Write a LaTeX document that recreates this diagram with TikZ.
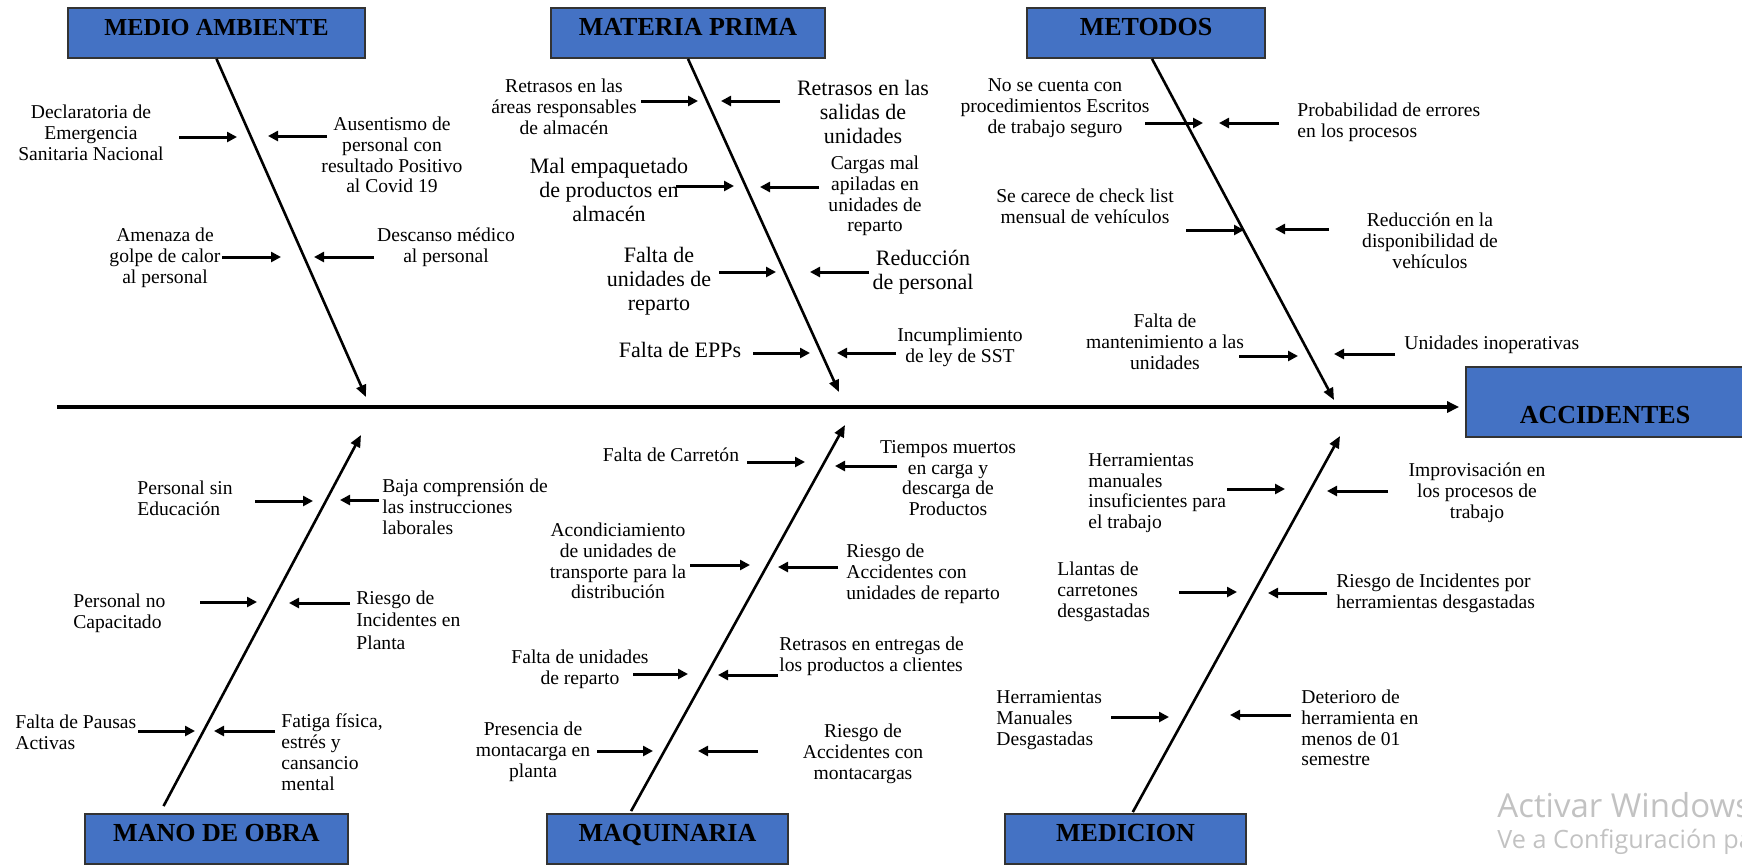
\documentclass[tikz,border=0pt]{standalone}
\usepackage{fontspec}
\setmainfont{Liberation Serif}
\newfontfamily\wmfont{Open Sans}
\usetikzlibrary{arrows.meta}
\usetikzlibrary{positioning, calc}

\definecolor{ishiblue}{RGB}{68,114,196}
\tikzset{
  cat/.style={draw=black!80, line width=0.9pt, fill=ishiblue, inner sep=0pt,
    font=\fontsize{13}{15}\selectfont\bfseries, text height=8.6pt, text depth=6pt,
    minimum height=25pt},
  bone/.style={line width=1.3pt, -{Triangle[length=6pt,width=5pt]}},
  spine/.style={line width=1.7pt, -{Triangle[length=6pt,width=5.5pt]}},
  cause/.style={line width=1.5pt, -{Triangle[length=5pt,width=5pt]}},
  txt/.style={align=center, inner sep=0pt, font=\fontsize{9.8}{10.4}\selectfont},
  bigtxt/.style={align=center, inner sep=0pt, font=\fontsize{11}{12}\selectfont},
  ltxt/.style={txt, align=left, anchor=west},
  wm/.style={anchor=base west, inner sep=0pt, text=black!24},
}

\begin{document}
\begin{tikzpicture}[x=0.5pt, y=-0.5pt]
  \useasboundingbox (0,0) rectangle (1742,864);

  % categories and effect
  \node[cat, minimum width=148.5pt, font=\fontsize{12.2}{14}\selectfont\bfseries] (medio) at (216.5,33) {MEDIO AMBIENTE};
  \node[cat, minimum width=137pt] (materia) at (688,33) {MATERIA PRIMA};
  \node[cat, minimum width=119pt] (metodos) at (1146,33) {METODOS};
  \node[cat, minimum width=139pt, minimum height=35pt, text height=21.6pt, text depth=0pt] (accid) at (1605,402) {ACCIDENTES};
  \node[cat, minimum width=131.5pt] (mano) at (216.5,839) {MANO DE OBRA};
  \node[cat, minimum width=120.5pt] (maquina) at (667.5,839) {MAQUINARIA};
  \node[cat, minimum width=120.5pt] (medicion) at (1125.5,839) {MEDICION};

  % spine
  \coordinate (spinestart) at (57,407);
  \draw[spine, shorten >=3pt] (spinestart) -- (spinestart -| accid.west);

  % bones
  \coordinate (mediotip) at (366,397);
  \coordinate (materiatip) at (839,392);
  \coordinate (metodostip) at (1334,400);
  \coordinate (manotip) at (361,435);
  \coordinate (maquinatip) at (845,425);
  \coordinate (mediciontip) at (1340,436);
  \draw[bone] (medio.south) -- (mediotip);
  \draw[bone] (materia.south) -- (materiatip);
  \draw[bone] ([xshift=3pt]metodos.south) -- (metodostip);
  \draw[bone] ([yshift=3.5pt]$(mano.north west)!0.30!(mano.north east)$) -- (manotip);
  \draw[bone] ([yshift=1pt]$(maquina.north west)!0.35!(maquina.north east)$) -- (maquinatip);
  \draw[bone] ([yshift=0.5pt]$(medicion.north west)!0.53!(medicion.north east)$) -- (mediciontip);

  % medio ambiente
  \node[txt] (ma1) at (91,133) {Declaratoria de\\Emergencia\\Sanitaria Nacional};
  \node[txt] (ma2) at (392,155) {Ausentismo de\\personal con\\resultado Positivo\\al Covid 19};
  \node[txt] (ma3) at (165,258) {Amenaza de\\golpe de calor\\al personal};
  \node[txt] (ma4) at (446,247) {Descanso médico\\al personal};
  \coordinate (ma1s) at (179,137); \coordinate (ma1e) at (237,137);
  \coordinate (ma2s) at (327,136); \coordinate (ma2e) at (268,136);
  \coordinate (ma3s) at (222,257); \coordinate (ma3e) at (281,257);
  \coordinate (ma4s) at (374,257); \coordinate (ma4e) at (314,257);
  \draw[cause] (ma1s) -- (ma1e);
  \draw[cause] (ma2s) -- (ma2e);
  \draw[cause] (ma3s) -- (ma3e);
  \draw[cause] (ma4s) -- (ma4e);

  % materia prima
  \node[txt] (mp1) at (564,107) {Retrasos en las\\áreas responsables\\de almacén};
  \node[bigtxt] (mp2) at (863,112) {Retrasos en las\\salidas de\\unidades};
  \node[bigtxt] (mp3) at (609,190) {Mal empaquetado\\de productos en\\almacén};
  \node[txt] (mp4) at (875,196) {Cargas mal\\apiladas en\\unidades de\\reparto};
  \node[bigtxt] (mp5) at (659,281) {Falta de\\unidades de\\reparto};
  \node[bigtxt] (mp6) at (923,272) {Reducción\\de personal};
  \node[bigtxt] (mp7) at (680,350) {Falta de EPPs};
  \node[txt] (mp8) at (960,347) {Incumplimiento\\de ley de SST};
  \coordinate (mp1s) at (641,101); \coordinate (mp1e) at (698,101);
  \coordinate (mp2s) at (780,101); \coordinate (mp2e) at (721,101);
  \coordinate (mp3s) at (676,186); \coordinate (mp3e) at (734,186);
  \coordinate (mp4s) at (819,187); \coordinate (mp4e) at (760,187);
  \coordinate (mp5s) at (719,272); \coordinate (mp5e) at (776,272);
  \coordinate (mp6s) at (869,272); \coordinate (mp6e) at (810,272);
  \coordinate (mp7s) at (753,353); \coordinate (mp7e) at (810,353);
  \coordinate (mp8s) at (896,353); \coordinate (mp8e) at (837,353);
  \draw[cause] (mp1s) -- (mp1e);
  \draw[cause] (mp2s) -- (mp2e);
  \draw[cause] (mp3s) -- (mp3e);
  \draw[cause] (mp4s) -- (mp4e);
  \draw[cause] (mp5s) -- (mp5e);
  \draw[cause] (mp6s) -- (mp6e);
  \draw[cause] (mp7s) -- (mp7e);
  \draw[cause] (mp8s) -- (mp8e);

  % metodos
  \node[txt] (me1) at (1055,108) {No se cuenta con\\procedimientos Escritos\\de trabajo seguro};
  \node[ltxt] (me2) at (1297,122) {Probabilidad de errores\\en los procesos};
  \node[txt] (me3) at (1085,206) {Se carece de check list\\mensual de vehículos};
  \node[txt] (me4) at (1430,241) {Reducción en la\\disponibilidad de\\vehículos};
  \node[txt] (me5) at (1165,342) {Falta de\\mantenimiento a las\\unidades};
  \node[ltxt] (me6) at (1404,345) {Unidades inoperativas};
  \coordinate (me1s) at (1145,123); \coordinate (me1e) at (1203,123);
  \coordinate (me2s) at (1279,123); \coordinate (me2e) at (1219,123);
  \coordinate (me3s) at (1186,230); \coordinate (me3e) at (1244,230);
  \coordinate (me4s) at (1329,229); \coordinate (me4e) at (1275,229);
  \coordinate (me5s) at (1239,356); \coordinate (me5e) at (1298,356);
  \coordinate (me6s) at (1395,354); \coordinate (me6e) at (1334,354);
  \draw[cause] (me1s) -- (me1e);
  \draw[cause] (me2s) -- (me2e);
  \draw[cause] (me3s) -- (me3e);
  \draw[cause] (me4s) -- (me4e);
  \draw[cause] (me5s) -- (me5e);
  \draw[cause] (me6s) -- (me6e);

  % mano de obra
  \node[ltxt] (mo1) at (137,498) {Personal sin\\Educación};
  \node[ltxt] (mo2) at (382,507) {Baja comprensión de\\las instrucciones\\laborales};
  \node[ltxt] (mo3) at (73,613) {Personal no\\Capacitado};
  \node[ltxt, font=\fontsize{9.8}{11.2}\selectfont] (mo4) at (356,620) {Riesgo de\\Incidentes en\\Planta};
  \node[ltxt] (mo5) at (15,732) {Falta de Pausas\\Activas};
  \node[ltxt] (mo6) at (281,752) {Fatiga física,\\estrés y\\cansancio\\mental};
  \coordinate (mo1s) at (255,501); \coordinate (mo1e) at (313,501);
  \coordinate (mo2s) at (379,500); \coordinate (mo2e) at (340,500);
  \coordinate (mo3s) at (200,602); \coordinate (mo3e) at (257,602);
  \coordinate (mo4s) at (350,603); \coordinate (mo4e) at (289,603);
  \coordinate (mo5s) at (138,731); \coordinate (mo5e) at (195,731);
  \coordinate (mo6s) at (275,731); \coordinate (mo6e) at (214,731);
  \draw[cause] (mo1s) -- (mo1e);
  \draw[cause] (mo2s) -- (mo2e);
  \draw[cause] (mo3s) -- (mo3e);
  \draw[cause] (mo4s) -- (mo4e);
  \draw[cause] (mo5s) -- (mo5e);
  \draw[cause] (mo6s) -- (mo6e);

  % maquinaria
  \node[txt] (mq1) at (671,455) {Falta de Carretón};
  \node[txt] (mq2) at (948,478) {Tiempos muertos\\en carga y\\descarga de\\Productos};
  \node[txt] (mq3) at (618,561) {Acondiciamiento\\de unidades de\\transporte para la\\distribución};
  \node[ltxt] (mq4) at (846,574) {Riesgo de\\Accidentes con\\unidades de reparto};
  \node[txt] (mq5) at (580,669) {Falta de unidades\\de reparto};
  \node[ltxt] (mq6) at (779,656) {Retrasos en entregas de\\los productos a clientes};
  \node[txt] (mq7) at (533,752) {Presencia de\\montacarga en\\planta};
  \node[txt] (mq8) at (863,754) {Riesgo de\\Accidentes con\\montacargas};
  \coordinate (mq1s) at (747,462); \coordinate (mq1e) at (805,462);
  \coordinate (mq2s) at (897,466); \coordinate (mq2e) at (835,466);
  \coordinate (mq3s) at (690,565); \coordinate (mq3e) at (750,565);
  \coordinate (mq4s) at (838,567); \coordinate (mq4e) at (778,567);
  \coordinate (mq5s) at (633,674); \coordinate (mq5e) at (688,674);
  \coordinate (mq6s) at (778,675); \coordinate (mq6e) at (718,675);
  \coordinate (mq7s) at (597,751); \coordinate (mq7e) at (653,751);
  \coordinate (mq8s) at (758,751); \coordinate (mq8e) at (698,751);
  \draw[cause] (mq1s) -- (mq1e);
  \draw[cause] (mq2s) -- (mq2e);
  \draw[cause] (mq3s) -- (mq3e);
  \draw[cause] (mq4s) -- (mq4e);
  \draw[cause] (mq5s) -- (mq5e);
  \draw[cause] (mq6s) -- (mq6e);
  \draw[cause] (mq7s) -- (mq7e);
  \draw[cause] (mq8s) -- (mq8e);

  % medicion
  \node[ltxt] (md1) at (1088,493) {Herramientas\\manuales\\insuficientes para\\el trabajo};
  \node[txt] (md2) at (1477,493) {Improvisación en\\los procesos de\\trabajo};
  \node[ltxt] (md3) at (1057,592) {Llantas de\\carretones\\desgastadas};
  \node[ltxt] (md4) at (1336,593) {Riesgo de Incidentes por\\herramientas desgastadas};
  \node[ltxt] (md5) at (996,720) {Herramientas\\Manuales\\Desgastadas};
  \node[ltxt] (md6) at (1301,728) {Deterioro de\\herramienta en\\menos de 01\\semestre};
  \coordinate (md1s) at (1227,489); \coordinate (md1e) at (1285,489);
  \coordinate (md2s) at (1388,491); \coordinate (md2e) at (1327,491);
  \coordinate (md3s) at (1179,592); \coordinate (md3e) at (1237,592);
  \coordinate (md4s) at (1327,593); \coordinate (md4e) at (1268,593);
  \coordinate (md5s) at (1111,717); \coordinate (md5e) at (1169,717);
  \coordinate (md6s) at (1291,715); \coordinate (md6e) at (1230,715);
  \draw[cause] (md1s) -- (md1e);
  \draw[cause] (md2s) -- (md2e);
  \draw[cause] (md3s) -- (md3e);
  \draw[cause] (md4s) -- (md4e);
  \draw[cause] (md5s) -- (md5e);
  \draw[cause] (md6s) -- (md6e);

  % screen overlay text (cut by the right edge, as in the screenshot)
  \node[wm, font=\wmfont\fontsize{16.5}{19}\selectfont] (wm1) at (1497,817) {Activar Windows};
  \node[wm, font=\wmfont\fontsize{12.6}{14}\selectfont] (wm2) at (1497,848) {Ve a Configuración para activar Windows.};
\end{tikzpicture}
\end{document}
